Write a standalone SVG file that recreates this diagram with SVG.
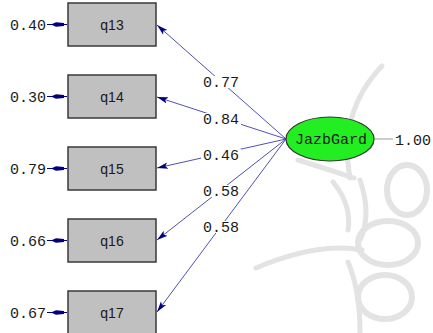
<svg xmlns="http://www.w3.org/2000/svg" width="433" height="333" viewBox="0 0 433 333">
<defs>
<style>
.bg{fill:none;stroke:#e3e3e3;stroke-linecap:round}
.box{fill:#c0c0c0;stroke:#3a3a3a;stroke-width:1.5}
.lbl{font-family:"Liberation Sans",Arial,sans-serif;font-size:14px;fill:#1a1a1a;text-anchor:middle}
.num{font-family:"Liberation Mono","Courier New",monospace;font-size:15px;fill:#1a1a1a}
.path{stroke:#3c3ca8;stroke-width:0.9;fill:none;marker-end:url(#ah)}
.err{stroke:#000080;stroke-width:1;fill:none}
.errh{fill:#000080}
.pl{fill:#ffffff}
</style>
<marker id="ah" markerUnits="userSpaceOnUse" markerWidth="12" markerHeight="8" refX="11" refY="4" orient="auto">
<path d="M0,0.8 L11,4 L0,7.2 L2.5,4 Z" fill="#000080"/>
</marker>
</defs>
<rect width="433" height="333" fill="#ffffff"/>
<g id="watermark">
<path class="bg" stroke-width="5" d="M382,66 Q338,112 350,178"/>
<path class="bg" stroke-width="5" d="M298,160 Q330,170 354,178"/>
<path class="bg" stroke-width="5" d="M333,182 Q352,205 348,230"/>
<ellipse class="bg" stroke-width="6" cx="407" cy="190" rx="20" ry="25"/>
<ellipse class="bg" stroke-width="6" cx="388" cy="243" rx="30" ry="22"/>
<ellipse class="bg" stroke-width="6" cx="385" cy="297" rx="27" ry="22"/>
<path class="bg" stroke-width="5" d="M256,268 Q318,242 362,250"/>
<path class="bg" stroke-width="5" d="M360,180 Q372,215 360,240"/>
<path class="bg" stroke-width="5" d="M348,262 Q360,290 360,333"/>
</g>
<g id="connectors">
<line class="path" x1="286" y1="139" x2="157" y2="25"/>
<line class="path" x1="286" y1="139" x2="157" y2="97"/>
<line class="path" x1="286" y1="139" x2="157" y2="168"/>
<line class="path" x1="286" y1="139" x2="157" y2="240"/>
<line class="path" x1="286" y1="139" x2="157" y2="312"/>
<line x1="374" y1="139" x2="393" y2="139" stroke="#9a9a9a" stroke-width="1"/>
<g id="err-arrows">
<line class="err" x1="47" y1="24.5" x2="67" y2="24.5"/>
<path class="errh" d="M51,24.5 L56,22.3 L64,23 L64,26 L56,26.7 Z"/>
<line class="err" x1="47" y1="96.5" x2="67" y2="96.5"/>
<path class="errh" d="M51,96.5 L56,94.3 L64,95 L64,98 L56,98.7 Z"/>
<line class="err" x1="47" y1="168.5" x2="67" y2="168.5"/>
<path class="errh" d="M51,168.5 L56,166.3 L64,167 L64,170 L56,170.7 Z"/>
<line class="err" x1="47" y1="240.5" x2="67" y2="240.5"/>
<path class="errh" d="M51,240.5 L56,238.3 L64,239 L64,242 L56,242.7 Z"/>
<line class="err" x1="47" y1="312.5" x2="67" y2="312.5"/>
<path class="errh" d="M51,312.5 L56,310.3 L64,311 L64,314 L56,314.7 Z"/>
</g>
<g id="path-labels">
<rect class="pl" x="201" y="76" width="40" height="12"/>
<text class="num" x="221" y="86.5" text-anchor="middle">0.77</text>
<rect class="pl" x="201" y="113" width="40" height="12"/>
<text class="num" x="221" y="123.5" text-anchor="middle">0.84</text>
<rect class="pl" x="201" y="149" width="40" height="12"/>
<text class="num" x="221" y="159.5" text-anchor="middle">0.46</text>
<rect class="pl" x="201" y="185" width="40" height="12"/>
<text class="num" x="221" y="195.5" text-anchor="middle">0.58</text>
<rect class="pl" x="201" y="221" width="40" height="12"/>
<text class="num" x="221" y="231.5" text-anchor="middle">0.58</text>
</g>
</g>
<g id="q13"><rect class="box" x="68" y="3" width="88" height="43"/><text class="lbl" x="112" y="29.5">q13</text><text class="num" x="10" y="29.5">0.40</text></g>
<g id="q14"><rect class="box" x="68" y="75" width="88" height="43"/><text class="lbl" x="112" y="101.5">q14</text><text class="num" x="10" y="101.5">0.30</text></g>
<g id="q15"><rect class="box" x="68" y="147" width="88" height="43"/><text class="lbl" x="112" y="173.5">q15</text><text class="num" x="10" y="173.5">0.79</text></g>
<g id="q16"><rect class="box" x="68" y="219" width="88" height="43"/><text class="lbl" x="112" y="245.5">q16</text><text class="num" x="10" y="245.5">0.66</text></g>
<g id="q17"><rect class="box" x="68" y="291" width="88" height="43"/><text class="lbl" x="112" y="317.5">q17</text><text class="num" x="10" y="317.5">0.67</text></g>
<g id="JazbGard">
<ellipse cx="330" cy="139" rx="44" ry="22" fill="#22ee22" stroke="#333333" stroke-width="1.2"/>
<text class="num" x="331" y="144" text-anchor="middle">JazbGard</text>
<text class="num" x="395" y="144.5">1.00</text>
</g>
</svg>
